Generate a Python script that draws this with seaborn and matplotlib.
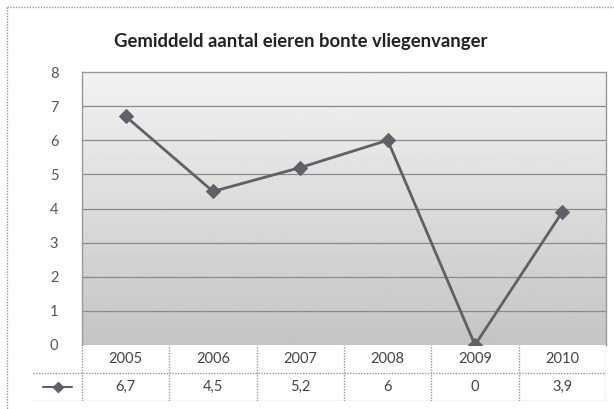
import numpy as np
import pandas as pd
import matplotlib
matplotlib.use('Agg')
import matplotlib.pyplot as plt
import seaborn as sns

# data
years = ['2005', '2006', '2007', '2008', '2009', '2010']
eggs = [6.7, 4.5, 5.2, 6.0, 0.0, 3.9]
value_labels = ['6,7', '4,5', '5,2', '6', '0', '3,9']
yticks = [0, 1, 2, 3, 4, 5, 6, 7, 8]

sns.set_theme(style='white')
plt.rcParams['font.family'] = ['Lato', 'DejaVu Sans']

df = pd.DataFrame({'x': range(len(years)), 'eggs': eggs})

W, H = 614, 409
fig = plt.figure(figsize=(W / 100, H / 100), dpi=100)

def fx(px):
    return px / W

def fy(py):
    return 1 - py / H

# outer dotted frame
fig.add_artist(plt.Line2D([fx(7), fx(7)], [fy(7), fy(409)], color='#999999',
                          lw=1, ls=(0, (1, 1))))
fig.add_artist(plt.Line2D([fx(7), fx(614)], [fy(7), fy(7)], color='#999999',
                          lw=1, ls=(0, (1, 1))))

ax = fig.add_axes([fx(82), fy(345), fx(606 - 82), (345 - 72) / H])
col = '#606068'

# gradient background
grad = np.linspace(0.95, 0.77, 256).reshape(-1, 1)
ax.imshow(grad, extent=[-0.5, 5.5, 0, 8], aspect='auto', cmap='gray',
          vmin=0, vmax=1, zorder=0)
for v in yticks[1:-1]:
    ax.axhline(v, color='#8a8a8a', lw=0.9, zorder=1)

sns.lineplot(data=df, x='x', y='eggs', ax=ax, color=col, lw=2,
             marker='D', markersize=7, markeredgecolor=col, zorder=3)
ax.set_xlim(-0.5, 5.5)
ax.set_ylim(0, 8)
ax.set_yticks(yticks)
ax.set_yticklabels([str(v) for v in yticks], color='#555555', fontsize=10.5)
ax.set_xticks([])
ax.set_xlabel('')
ax.set_ylabel('')
ax.tick_params(axis='y', length=0, pad=17)
for s in ax.spines.values():
    s.set_color('#999999')
    s.set_linestyle((0, (1, 1)))
    s.set_linewidth(1)
ax.spines['bottom'].set_visible(False)

# data table
tx = fig.add_axes([fx(33), fy(401), fx(606 - 33), (401 - 345) / H])
lw_col = 49 / ((606 - 82) / 6)
tx.set_xlim(-0.5 - lw_col, 5.5)
tx.set_ylim(0, 2)
tx.axis('off')
dot = dict(color='#999999', lw=1, ls=(0, (1, 1)))
tx.plot([-0.5 - lw_col, 5.5], [1, 1], **dot)
tx.plot([-0.5 - lw_col, 5.5], [0, 0], **dot)
for i in range(7):
    tx.plot([i - 0.5, i - 0.5], [0, 2], **dot)
for i, (yr, lab) in enumerate(zip(years, value_labels)):
    tx.text(i, 1.5, yr, ha='center', va='center', fontsize=10.5, color='#444444')
    tx.text(i, 0.5, lab, ha='center', va='center', fontsize=10.5, color='#444444')
tx.plot([-0.5 - lw_col * 0.8, -0.5 - lw_col * 0.2], [0.5, 0.5], color=col, lw=1.5)
tx.plot([-0.5 - lw_col * 0.5], [0.5], marker='D', color=col, markersize=5)

fig.text(fx(301), fy(41), 'Gemiddeld aantal eieren bonte vliegenvanger',
         ha='center', va='center', fontsize=13.3, fontweight='bold', color='#222222')

fig.savefig('out.png', dpi=100)
